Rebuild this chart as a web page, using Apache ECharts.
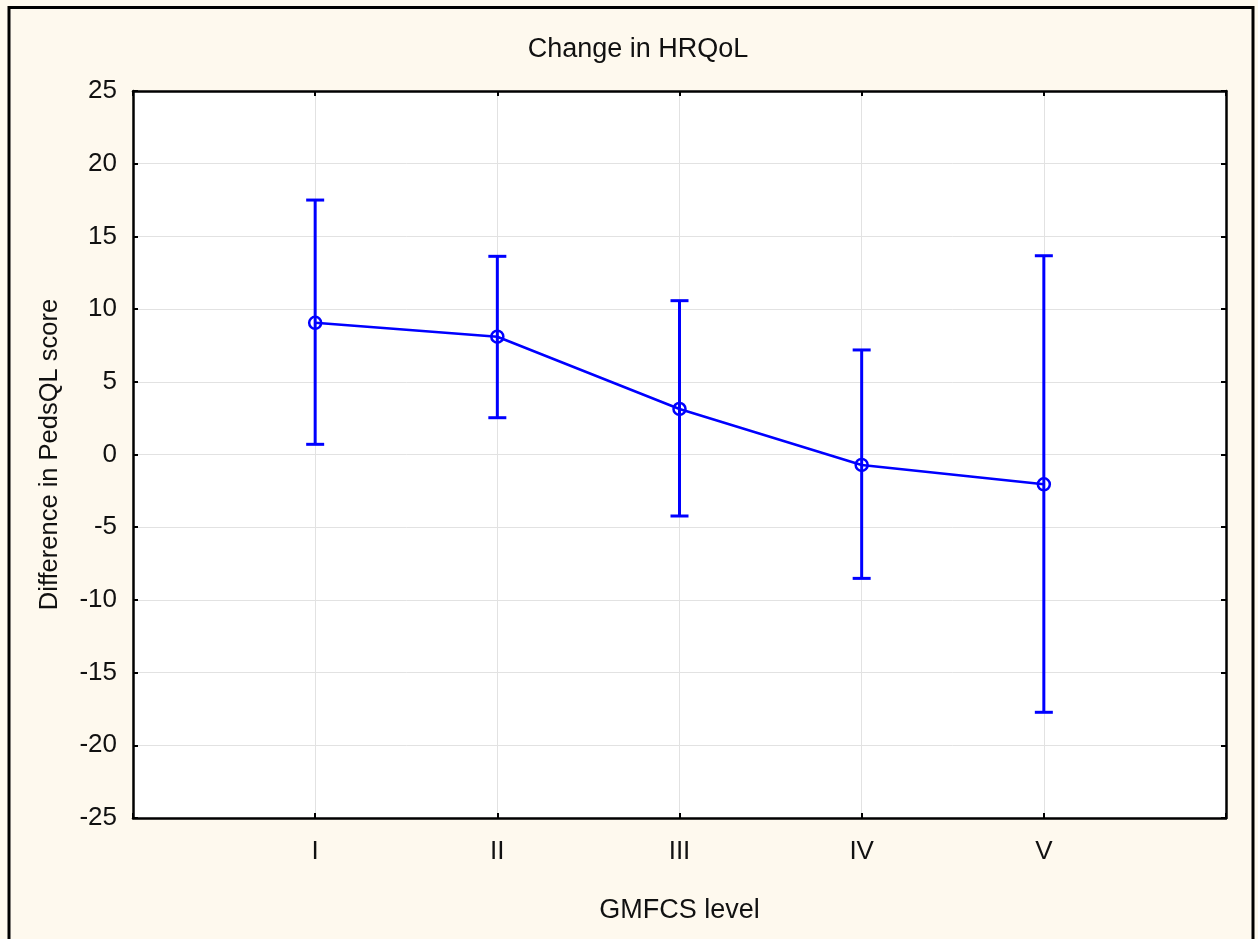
<!DOCTYPE html>
<html>
<head>
<meta charset="utf-8">
<script src="https://cdn.jsdelivr.net/npm/echarts@6/dist/echarts.min.js"></script>
<style>
  html, body { margin: 0; padding: 0; background: #fef9ee; }
  #chart { width: 1258px; height: 939px; }
</style>
</head>
<body>
<div id="chart"></div>
<script>
const levels = ['I', 'II', 'III', 'IV', 'V'];
const means = [9.06, 8.1, 3.13, -0.72, -2.05];
const upper = [17.5, 13.63, 10.58, 7.19, 13.67];
const lower = [0.7, 2.53, -4.23, -8.52, -17.73];
const yTicks = { min: -25, max: 25, step: 5 };

const blue = '#0000ff';
const font = '"Liberation Sans", Arial, sans-serif';

const chart = echarts.init(document.getElementById('chart'));

const linePts = means.map((m, i) => [i + 1, m]);
const barPts = levels.map((_, i) => [i + 1, lower[i], upper[i]]);

function axisBase() {
    return {
        axisLine: { show: true, onZero: false, lineStyle: { color: '#000', width: 2.5 } },
        axisTick: { show: true, inside: true, length: 5, lineStyle: { color: '#000', width: 2 } },
    };
}

const option = {
    backgroundColor: '#fef9ee',
    animation: false,
    textStyle: { fontFamily: font },
    grid: { left: 133, top: 91, right: 32, bottom: 121, show: true, backgroundColor: '#fff', borderWidth: 0 },
    title: {
        text: 'Change in HRQoL',
        left: 633, top: 31, textAlign: 'center',
        textStyle: { fontFamily: font, fontSize: 27, fontWeight: 'normal', color: '#111' }
    },
    xAxis: [
        Object.assign(axisBase(), {
            type: 'value', min: 0, max: 6, interval: 1, position: 'bottom',
            axisLabel: {
                margin: 21, fontSize: 26, color: '#111', fontFamily: font,
                formatter: v => levels[v - 1] || ''
            },
            splitLine: { show: true, lineStyle: { color: '#e2e2e2', width: 1 } },
            name: 'GMFCS level', nameLocation: 'middle', nameGap: 79,
            nameTextStyle: { fontSize: 27, color: '#111', fontFamily: font }
        }),
        Object.assign(axisBase(), {
            type: 'value', min: 0, max: 6, interval: 1, position: 'top',
            axisLabel: { show: false }, splitLine: { show: false }
        })
    ],
    yAxis: [
        Object.assign(axisBase(), {
            type: 'value', min: yTicks.min, max: yTicks.max, interval: yTicks.step, position: 'left',
            axisLabel: { margin: 16, fontSize: 26, color: '#111', fontFamily: font },
            splitLine: { show: true, lineStyle: { color: '#e2e2e2', width: 1 } },
            name: 'Difference in PedsQL score', nameLocation: 'middle', nameGap: 70, nameRotate: 90,
            nameTextStyle: { fontSize: 25.5, color: '#111', fontFamily: font }
        }),
        Object.assign(axisBase(), {
            type: 'value', min: yTicks.min, max: yTicks.max, interval: yTicks.step, position: 'right',
            axisLabel: { show: false }, splitLine: { show: false }
        })
    ],
    graphic: [{
        type: 'rect', silent: true, z: 100,
        shape: { x: 9, y: 7.5, width: 1244, height: 950 },
        style: { fill: 'none', stroke: '#000', lineWidth: 3 }
    }],
    series: [
        {
            type: 'custom',
            data: barPts,
            z: 3,
            renderItem: function (params, api) {
                const x = api.value(0);
                const lo = api.coord([x, api.value(1)]);
                const hi = api.coord([x, api.value(2)]);
                const hw = 9;
                const st = { stroke: blue, lineWidth: 3 };
                return {
                    type: 'group',
                    children: [
                        { type: 'line', shape: { x1: lo[0], y1: lo[1], x2: hi[0], y2: hi[1] }, style: st },
                        { type: 'line', shape: { x1: hi[0] - hw, y1: hi[1], x2: hi[0] + hw, y2: hi[1] }, style: st },
                        { type: 'line', shape: { x1: lo[0] - hw, y1: lo[1], x2: lo[0] + hw, y2: lo[1] }, style: st }
                    ]
                };
            }
        },
        {
            type: 'line',
            data: linePts,
            z: 4,
            symbol: 'circle',
            symbolSize: 12,
            lineStyle: { color: blue, width: 2.5 },
            itemStyle: { color: 'rgba(0,0,0,0)', borderColor: blue, borderWidth: 2.5 }
        }
    ]
};

chart.setOption(option);
</script>
</body>
</html>
